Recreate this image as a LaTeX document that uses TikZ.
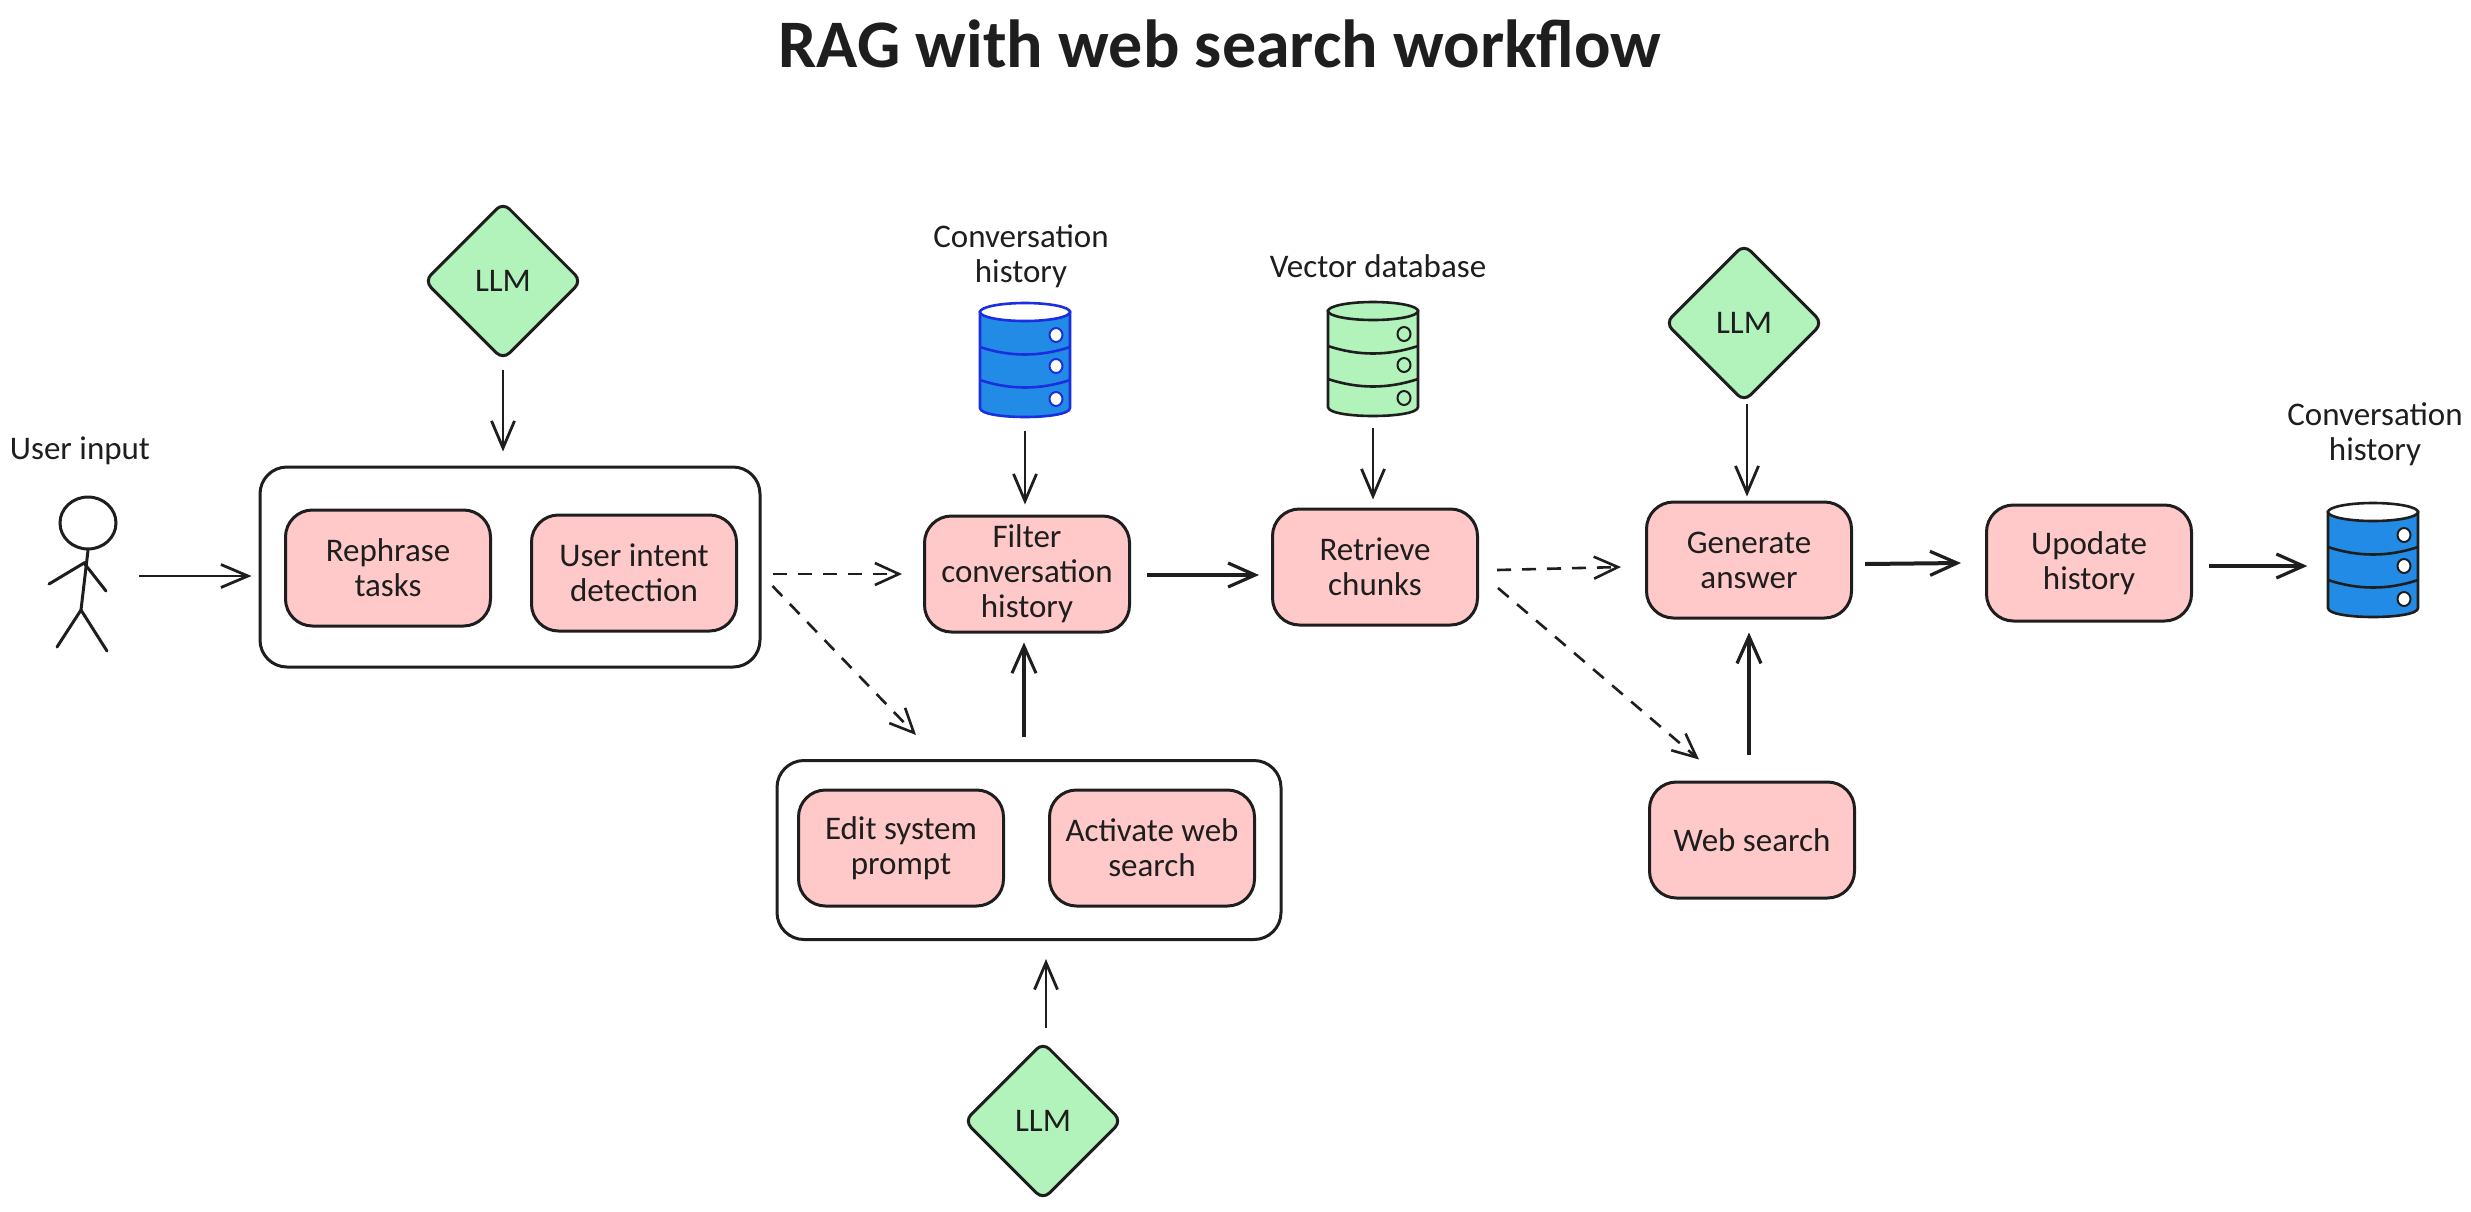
\documentclass[tikz,border=0pt]{standalone}
\usepackage{fontspec}
\setmainfont{Carlito}
\usetikzlibrary{arrows.meta,shapes.geometric}
\definecolor{ink}{HTML}{1E1E1E}
\definecolor{pinkfill}{HTML}{FFC9C9}
\definecolor{greenfill}{HTML}{B2F2BB}
\definecolor{bluefill}{HTML}{228BE6}
\definecolor{bluestroke}{HTML}{1A2FE0}
\tikzset{
  txt/.style={font=\fontsize{33}{35}\selectfont, text=ink, align=center},
  titletxt/.style={font=\bfseries\fontsize{68}{76}\selectfont, text=ink},
  task/.style={txt, draw=ink, line width=3pt, fill=pinkfill, rounded corners=27pt, minimum width=205pt, minimum height=116pt, inner sep=0pt},
  group/.style={draw=ink, line width=3pt, fill=white, rounded corners=27pt, inner sep=0pt},
  llm/.style={txt, shape=diamond, aspect=1, draw=ink, line width=3pt, fill=greenfill, rounded corners=9pt, minimum width=158pt, minimum height=158pt, inner sep=0pt},
  dbanchor/.style={minimum width=91pt, minimum height=114pt, inner sep=0pt},
  thin arrow/.style={draw=ink, line width=2.8pt, -{Straight Barb[length=27pt,width=23pt,line width=2.8pt]}},
  medium arrow/.style={draw=ink, line width=3.2pt, -{Straight Barb[length=27pt,width=24pt,line width=3pt]}},
  thick arrow/.style={draw=ink, line width=4pt, -{Straight Barb[length=27pt,width=24pt,line width=3.2pt]}},
  dash arrow/.style={draw=ink, line width=2.6pt, dash pattern=on 14pt off 11pt, -{Straight Barb[length=24pt,width=22pt,line width=2.6pt]}},
}
% name, x, y, body fill, stroke, top and hole fill
\newcommand{\dbdraw}[6]{%
  \node[dbanchor] (#1) at (#2,#3) {};
  \begin{scope}[shift={(#2,#3)}]
    \path[fill=#4, draw=#5, line width=2.6pt] (-45,-48) -- (-45,48) .. controls (-45,60) and (45,60) .. (45,48) -- (45,-48) -- cycle;
    \path[fill=#6, draw=#5, line width=2.6pt] (0,-48) ellipse [x radius=45pt, y radius=9pt];
    \draw[#5, line width=2.6pt] (-45,-13) .. controls (-15,-3) and (15,-3) .. (45,-13);
    \draw[#5, line width=2.6pt] (-45,20) .. controls (-15,30) and (15,30) .. (45,20);
    \path[fill=#6, draw=#5, line width=2pt] (31,-25) ellipse [x radius=6.5pt, y radius=7pt];
    \path[fill=#6, draw=#5, line width=2pt] (31,6) ellipse [x radius=6.5pt, y radius=7pt];
    \path[fill=#6, draw=#5, line width=2pt] (31,39) ellipse [x radius=6.5pt, y radius=7pt];
  \end{scope}}
\begin{document}
\begin{tikzpicture}[x=1pt,y=-1pt]
\useasboundingbox (0,0) rectangle (2471,1211);
\fill[white] (0,0) rectangle (2471,1211);

\node[titletxt] (title) at (1220,44) {RAG with web search workflow};

% groups
\node[group, minimum width=500pt, minimum height=200pt] (box1) at (510,567) {};
\node[group, minimum width=504pt, minimum height=179pt] (box2) at (1029,850) {};

% tasks
\node[task] (rephrase) at (388,568) {Rephrase\\tasks};
\node[task] (intent) at (634,573) {User intent\\detection};
\node[task] (filter) at (1027,574) {Filter\\conversation\\history};
\node[task] (retrieve) at (1375,567) {Retrieve\\chunks};
\node[task] (generate) at (1749,560) {Generate\\answer};
\node[task] (update) at (2089,563) {Upodate\\history};
\node[task] (websearch) at (1752,840) {Web search};
\node[task] (edit) at (901,848) {Edit system\\prompt};
\node[task] (activate) at (1152,848) {Activate web\\search};

% diamonds
\node[llm] (llmA) at (503,281) {LLM};
\node[llm] (llmB) at (1744,323) {LLM};
\node[llm] (llmC) at (1043,1121) {LLM};

% databases
\dbdraw{dbA}{1025}{360}{bluefill}{bluestroke}{white}
\dbdraw{dbB}{1373}{359}{greenfill}{ink}{greenfill}
\dbdraw{dbC}{2373}{560}{bluefill}{ink}{white}

% labels
\node[txt] (lblA) at (1021,256) {Conversation\\history};
\node[txt] (lblB) at (1378,266) {Vector database};
\node[txt] (lblC) at (2375,434) {Conversation\\history};
\node[txt] (lblU) at (80,451) {User input};

% stick figure
\node[draw=ink, line width=3pt, shape=ellipse, minimum width=56pt, minimum height=52pt, inner sep=0pt, fill=white] (head) at (88,523) {};
\coordinate (hip) at (81,610);
\coordinate (shoulder) at (84,563);
\draw[ink, line width=3pt, line cap=round] (head.south) -- (hip);
\draw[ink, line width=3pt, line cap=round] (49,584) -- (shoulder) -- (106,591);
\draw[ink, line width=3pt, line cap=round] (57,647) -- (hip) -- (107,651);
\coordinate (userout) at (139,576);

% connectors
\draw[thin arrow] (userout) -- ([xshift=-7pt]box1.west |- userout);
\draw[thin arrow] ([yshift=-8pt]llmA.south) -- ([yshift=14pt]llmA.south |- box1.north);
\draw[thin arrow] ([yshift=-14pt]dbA.south) -- ([yshift=10pt]dbA.south |- filter.north);
\draw[thin arrow] ([yshift=-12pt]dbB.south) -- ([yshift=8pt]dbB.south |- retrieve.north);
\draw[thin arrow] ([xshift=3pt]llmB.south) -- ([xshift=3pt,yshift=4pt]llmB.south |- generate.north);
\draw[thin arrow] ([xshift=3pt,yshift=13pt]llmC.north) -- ([xshift=3pt,yshift=-18pt]llmC.north |- box2.south);

\draw[dash arrow] ([xshift=11pt,yshift=-7pt]box1.east) -- ([xshift=-21pt,yshift=-7pt]filter.west |- box1.east);
\draw[dash arrow] ([xshift=11pt,yshift=-19pt]box1.east) -- ([xshift=-113pt,yshift=24pt]box2.north);
\draw[dash arrow] ([xshift=18pt,yshift=-3pt]retrieve.east) -- ([xshift=-24pt,yshift=-7pt]generate.west);
\draw[dash arrow] ([xshift=19pt,yshift=-21pt]retrieve.east) -- ([xshift=-53pt,yshift=21pt]websearch.north);

\draw[thick arrow] ([xshift=16pt,yshift=-1pt]filter.east) -- ([xshift=-12pt,yshift=-1pt]retrieve.west |- filter.east);
\draw[thick arrow] ([xshift=12pt,yshift=-4pt]generate.east) -- ([xshift=-24pt,yshift=-3pt]update.west |- generate.east);
\draw[thick arrow] ([xshift=16pt,yshift=-3pt]update.east) -- ([xshift=-20pt,yshift=-3pt]dbC.west |- update.east);
\draw[medium arrow] ([xshift=-3pt,yshift=22pt]box2.north -| filter.south) -- ([xshift=-3pt,yshift=-9pt]filter.south);
\draw[thick arrow] ([yshift=26pt,xshift=-3pt]websearch.north) -- ([xshift=-3pt,yshift=-13pt]websearch.north |- generate.south);
\end{tikzpicture}
\end{document}
